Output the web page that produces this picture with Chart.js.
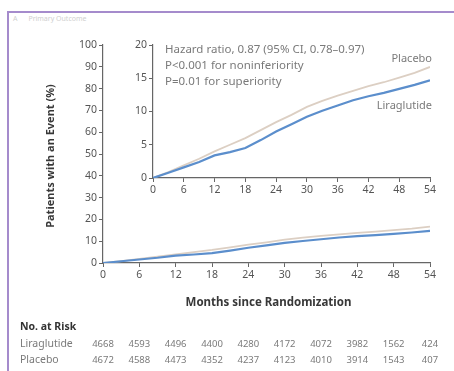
<!DOCTYPE html>
<html>
<head>
<meta charset="utf-8">
<script src="https://cdn.jsdelivr.net/npm/chart.js@4.4.1/dist/chart.umd.min.js"></script>
<style>
  html, body { margin: 0; padding: 0; background: #fff; }
  #wrap { position: relative; width: 454px; height: 371px; overflow: hidden; background: #fff; }
  #frame { position: absolute; left: 7px; top: 11px; width: 460px; height: 380px;
           border-top: 2px solid #a58bcc; border-left: 2px solid #a58bcc; box-sizing: border-box; }
  #head { position: absolute; left: 13px; top: 14px; font: 7px "Noto Sans", sans-serif; color: #cfcfcf; white-space: pre; }
  canvas { position: absolute; left: 0; top: 0; }
</style>
</head>
<body>
<div id="wrap">
  <div id="frame"></div>
  <div id="head">A      Primary Outcome</div>
  <canvas id="main" width="454" height="371"></canvas>
  <canvas id="inset" width="454" height="371"></canvas>
</div>
<script>
// Cumulative incidence (%) of the primary outcome, by month since randomization
const months      = [0, 3, 6, 9, 12, 15, 18, 21, 24, 27, 30, 33, 36, 39, 42, 45, 48, 51, 54];
const liraglutide = [0, 0.8, 1.6, 2.4, 3.4, 3.9, 4.5, 5.7, 7.0, 8.1, 9.2, 10.1, 10.9, 11.7, 12.3, 12.8, 13.4, 14.0, 14.7];
const placebo     = [0, 0.9, 1.9, 2.9, 4.0, 5.0, 6.0, 7.2, 8.4, 9.5, 10.7, 11.6, 12.4, 13.1, 13.8, 14.4, 15.1, 15.8, 16.7];

// Numbers at risk
const riskMonths      = [0, 6, 12, 18, 24, 30, 36, 42, 48, 54];
const riskLiraglutide = [4668, 4593, 4496, 4400, 4280, 4172, 4072, 3982, 1562, 424];
const riskPlacebo     = [4672, 4588, 4473, 4352, 4237, 4123, 4010, 3914, 1543, 407];

const annotationLines = ['Hazard ratio, 0.87 (95% CI, 0.78\u20130.97)', 'P<0.001 for noninferiority', 'P=0.01 for superiority'];

const FONT = '"Noto Sans", "DejaVu Sans", sans-serif';
const AXIS = '#666';
const TICKTXT = '#555';
const BLUE = '#5b8ecc';
const BEIGE = '#dccfc3';

const pts = arr => arr.map((v, i) => ({ x: months[i], y: v }));

function datasets() {
  return [
    { label: 'Liraglutide', data: pts(liraglutide), borderColor: BLUE, borderWidth: 2.2, pointRadius: 0, tension: 0 },
    { label: 'Placebo', data: pts(placebo), borderColor: BEIGE, borderWidth: 1.8, pointRadius: 0, tension: 0 }
  ];
}

function axis(min, max, step, fitKey, fitValue) {
  return {
    type: 'linear', min, max,
    ticks: { stepSize: step, color: TICKTXT, font: { family: FONT, size: 10.5 }, padding: 2, autoSkip: false, maxRotation: 0 },
    grid: { drawOnChartArea: false, drawTicks: true, tickLength: 4, tickColor: AXIS, lineWidth: 1 },
    border: { display: true, color: AXIS, width: 1.2 },
    afterFit: s => { s[fitKey] = fitValue; }
  };
}

// Axis titles and number-at-risk table for the full-scale chart
const mainText = {
  id: 'mainText',
  afterDraw(chart) {
    const { ctx, chartArea: a, scales } = chart;
    ctx.save();
    ctx.fillStyle = '#383838';
    ctx.font = 'bold 11.5px ' + FONT;
    ctx.textAlign = 'center';
    ctx.textBaseline = 'middle';
    ctx.fillText('Months since Randomization', (a.left + a.right) / 2 + 2, 303);

    ctx.save();
    ctx.translate(51, (a.top + a.bottom) / 2 + 2);
    ctx.rotate(-Math.PI / 2);
    ctx.font = 'bold 11px ' + FONT;
    ctx.fillText('Patients with an Event (%)', 0, 0);
    ctx.restore();

    ctx.textAlign = 'left';
    ctx.font = 'bold 10.5px ' + FONT;
    ctx.fillStyle = '#333';
    ctx.fillText('No. at Risk', 20, 327);
    ctx.font = '10.5px ' + FONT;
    ctx.fillStyle = '#7a7a7a';
    ctx.fillText('Liraglutide', 20, 344);
    ctx.fillText('Placebo', 20, 360);
    ctx.font = '9.5px ' + FONT;
    ctx.textAlign = 'center';
    riskMonths.forEach((m, i) => {
      const x = scales.x.getPixelForValue(m);
      ctx.fillText(String(riskLiraglutide[i]), x, 344);
      ctx.fillText(String(riskPlacebo[i]), x, 360);
    });
    ctx.restore();
  }
};

// Statistics text and series labels for the enlarged view
const insetText = {
  id: 'insetText',
  afterDraw(chart) {
    const { ctx, chartArea: a, scales } = chart;
    ctx.save();
    ctx.fillStyle = '#7a7a7a';
    ctx.font = '11.5px ' + FONT;
    ctx.textBaseline = 'middle';
    ctx.textAlign = 'left';
    annotationLines.forEach((t, i) => ctx.fillText(t, a.left + 12, a.top + 5 + i * 16));
    ctx.font = '11px ' + FONT;
    ctx.textAlign = 'right';
    const yEnd = scales.y.getPixelForValue(placebo[placebo.length - 1]);
    const yEndL = scales.y.getPixelForValue(liraglutide[liraglutide.length - 1]);
    ctx.fillText('Placebo', a.right + 2, yEnd - 8);
    ctx.fillText('Liraglutide', a.right + 2, yEndL + 26);
    ctx.restore();
  }
};

new Chart(document.getElementById('main'), {
  type: 'line',
  data: { datasets: datasets() },
  options: {
    responsive: false, animation: false, devicePixelRatio: 1,
    layout: { padding: { left: 0, top: 45, right: 24, bottom: 0 } },
    plugins: { legend: { display: false }, tooltip: { enabled: false } },
    scales: {
      x: axis(0, 54, 6, 'height', 108),
      y: axis(0, 100, 10, 'width', 103)
    }
  },
  plugins: [mainText]
});

new Chart(document.getElementById('inset'), {
  type: 'line',
  data: { datasets: datasets() },
  options: {
    responsive: false, animation: false, devicePixelRatio: 1,
    layout: { padding: { left: 0, top: 45, right: 24, bottom: 0 } },
    plugins: { legend: { display: false }, tooltip: { enabled: false } },
    scales: {
      x: axis(0, 54, 6, 'height', 193),
      y: axis(0, 20, 5, 'width', 153)
    }
  },
  plugins: [insetText]
});
</script>
</body>
</html>
